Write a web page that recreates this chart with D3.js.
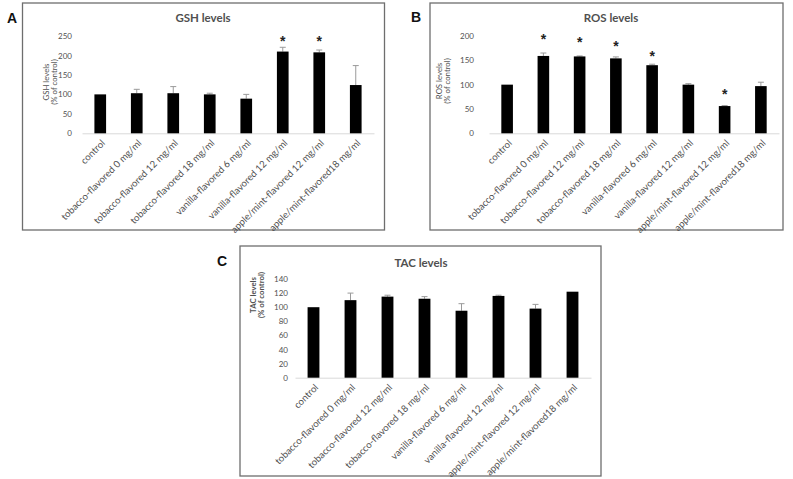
<!DOCTYPE html>
<html>
<head>
<meta charset="utf-8">
<script src="https://cdn.jsdelivr.net/npm/d3@7"></script>
<style>
  html, body { margin: 0; padding: 0; background: #fff; }
  svg { display: block; font-family: Lato, "Open Sans", sans-serif; }
</style>
</head>
<body>
<svg id="chart" width="793" height="479"></svg>
<script>
const categories = [
  "control",
  "tobacco-flavored 0 mg/ml",
  "tobacco-flavored 12 mg/ml",
  "tobacco-flavored 18 mg/ml",
  "vanilla-flavored 6 mg/ml",
  "vanilla-flavored 12 mg/ml",
  "apple/mint-flavored 12 mg/ml",
  "apple/mint-flavored18 mg/ml"
];

const gshValues = [100, 103, 103, 100, 89, 210, 208, 124];
const gshErrors = [0, 10, 17, 3, 11, 11, 6, 50];
const gshStars  = [null, null, null, null, null, 240, 240, null];
const gshTicks  = [0, 50, 100, 150, 200, 250];

const rosValues = [100, 159, 158, 154, 140, 100, 56, 97];
const rosErrors = [0, 6, 1, 3, 2, 2, 1, 8];
const rosStars  = [null, 195, 190, 181, 161, null, 82, null];
const rosTicks  = [0, 50, 100, 150, 200];

const tacValues = [100, 110, 115, 112, 95, 116, 98, 122];
const tacErrors = [0, 10, 2, 3, 10, 1, 6, 0];
const tacStars  = [null, null, null, null, null, null, null, null];
const tacTicks  = [0, 20, 40, 60, 80, 100, 120, 140];

const panels = [
  { letter: "A", title: "GSH levels", yTitle: "GSH levels", values: gshValues, errors: gshErrors, stars: gshStars, ticks: gshTicks,
    box: [22.5, 3, 362, 227], letterPos: [12, 18], titlePos: [203, 17],
    x0: 82, x1: 374, yTop: 36, yBase: 133.3, tickX: 72, yTitlePos: [49, 82] },
  { letter: "B", title: "ROS levels", yTitle: "ROS levels", values: rosValues, errors: rosErrors, stars: rosStars, ticks: rosTicks,
    box: [430, 3, 353, 227], letterPos: [416, 17], titlePos: [611, 17],
    x0: 489, x1: 779, yTop: 36, yBase: 133.3, tickX: 474, yTitlePos: [442, 81] },
  { letter: "C", title: "TAC levels", yTitle: "TAC levels", values: tacValues, errors: tacErrors, stars: tacStars, ticks: tacTicks,
    box: [240, 246, 361, 230], letterPos: [222, 261], titlePos: [421, 262], 
    x0: 295, x1: 591, yTop: 279, yBase: 377.7, tickX: 288, yTitlePos: [256, 295] }
];

const svg = d3.select("#chart");
const textGray = "#505050";

panels.forEach(p => {
  const g = svg.append("g");
  const [bx, by, bw, bh] = p.box;
  g.append("rect").attr("x", bx).attr("y", by).attr("width", bw).attr("height", bh)
    .attr("fill", "#fff").attr("stroke", "#6e6e6e").attr("stroke-width", 1.3);

  g.append("text").attr("x", p.letterPos[0]).attr("y", p.letterPos[1])
    .attr("text-anchor", "middle").attr("dominant-baseline", "central")
    .attr("font-size", 14).attr("font-weight", "bold").attr("fill", "#111")
    .attr("font-family", "Liberation Sans, Arial, sans-serif")
    .text(p.letter);

  g.append("text").attr("x", p.titlePos[0]).attr("y", p.titlePos[1])
    .attr("text-anchor", "middle").attr("dominant-baseline", "central")
    .attr("font-size", 11.5).attr("font-weight", "bold").attr("fill", textGray)
    .text(p.title);

  const x = d3.scaleBand().domain(categories).range([p.x0, p.x1]).paddingInner(0.68).paddingOuter(0.34);
  const yMax = p.ticks[p.ticks.length - 1];
  const y = d3.scaleLinear().domain([0, yMax]).range([p.yBase, p.yTop]);

  // y axis (labels only)
  const yAxis = d3.axisLeft(y).tickValues(p.ticks).tickSize(0).tickPadding(0);
  const ya = g.append("g").attr("transform", `translate(${p.tickX},0)`).call(yAxis);
  ya.select(".domain").remove();
  ya.selectAll("text").attr("font-size", 8).attr("fill", textGray).attr("font-family", "Lato, sans-serif");

  // x axis line
  const xAxis = d3.axisBottom(x).tickSize(0).tickFormat("");
  const xa = g.append("g").attr("transform", `translate(0,${p.yBase})`).call(xAxis);
  xa.select(".domain").attr("stroke", "#d9d9d9").attr("stroke-width", 1);

  // x labels rotated
  g.selectAll(".xl").data(categories).enter().append("text")
    .attr("transform", d => `translate(${x(d) + x.bandwidth() / 2 + 3},${p.yBase + 8}) rotate(-45)`)
    .attr("text-anchor", "end").attr("dy", "0.35em")
    .attr("font-size", 9.6).attr("fill", textGray)
    .text(d => d);

  // y title
  const yt = g.append("text")
    .attr("transform", `translate(${p.yTitlePos[0]},${p.yTitlePos[1]}) rotate(-90)`)
    .attr("text-anchor", "middle").attr("font-size", 7.8).attr("fill", textGray)
    .attr("font-weight", p.letter === "C" ? "bold" : "normal");
  yt.append("tspan").attr("x", 0).attr("dy", 0).text(p.yTitle);
  yt.append("tspan").attr("x", 0).attr("dy", "1.0em").text("(% of control)");

  // error bars
  const eg = g.append("g").attr("stroke", "#9a9a9a").attr("stroke-width", 1);
  categories.forEach((c, i) => {
    const e = p.errors[i];
    if (!e) return;
    const cx = x(c) + x.bandwidth() / 2;
    eg.append("line").attr("x1", cx).attr("x2", cx).attr("y1", y(p.values[i])).attr("y2", y(p.values[i] + e));
    eg.append("line").attr("x1", cx - 3).attr("x2", cx + 3).attr("y1", y(p.values[i] + e)).attr("y2", y(p.values[i] + e));
  });

  // bars
  g.selectAll(".bar").data(categories).enter().append("rect")
    .attr("x", d => x(d)).attr("width", x.bandwidth())
    .attr("y", (d, i) => y(p.values[i]))
    .attr("height", (d, i) => y(0) - y(p.values[i]))
    .attr("fill", "#000");

  // stars
  categories.forEach((c, i) => {
    const s = p.stars[i];
    if (s == null) return;
    g.append("text").attr("x", x(c) + x.bandwidth() / 2).attr("y", y(s) + 6)
      .attr("text-anchor", "middle").attr("font-size", 14).attr("font-weight", "bold")
      .attr("fill", "#222").attr("font-family", "Liberation Sans, Arial, sans-serif")
      .text("*");
  });
});
</script>
</body>
</html>
